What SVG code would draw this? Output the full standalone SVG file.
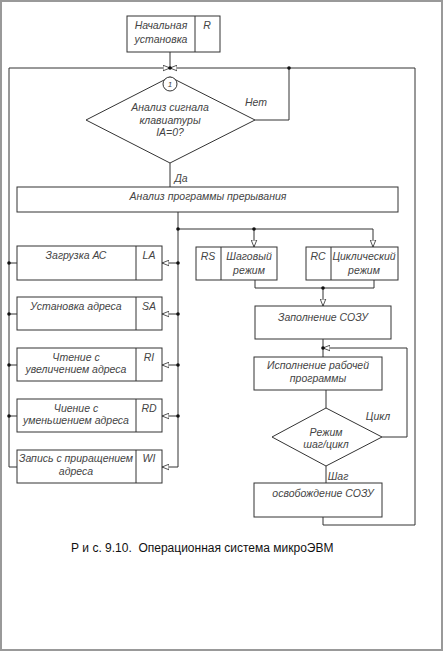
<svg xmlns="http://www.w3.org/2000/svg" width="444" height="652" viewBox="0 0 444 652">
<defs>
<style>
.frame{fill:none;stroke:#999;stroke-width:2}
.box{fill:#fff;stroke:#333;stroke-width:1}
.ln{fill:none;stroke:#333;stroke-width:1}
.t{font-family:"Liberation Sans",Arial,sans-serif;font-size:10.5px;font-style:italic;fill:#444;text-anchor:middle}
.cap{font-family:"Liberation Sans",Arial,sans-serif;font-size:12px;fill:#111;white-space:pre}
.dot{fill:#111}
</style>
<marker id="ah" viewBox="0 0 10 10" refX="10" refY="5" markerWidth="7" markerHeight="7" orient="auto" markerUnits="userSpaceOnUse">
<path d="M0,1 L10,5 L0,9 Z" fill="#fff" stroke="#333" stroke-width="1.2"/>
</marker>
</defs>
<rect class="frame" x="1" y="1" width="441" height="649"/>

<g id="connectors">
<path class="ln" d="M170,52 V68"/>
<path class="ln" d="M9,68 H170" marker-end="url(#ah)"/>
<path class="ln" d="M415,68 H170" marker-end="url(#ah)"/>
<path class="ln" d="M9,68 V467 H17"/>
<path class="ln" d="M255,120 H289 V68"/>
<path class="ln" d="M170,163 V187"/>
<path class="ln" d="M178,212 V467"/>
<path class="ln" d="M178,229 H373"/>
<path class="ln" d="M254,229 V247" marker-end="url(#ah)"/>
<path class="ln" d="M373,229 V247" marker-end="url(#ah)"/>
<path class="ln" d="M178,263 H162" marker-end="url(#ah)"/>
<path class="ln" d="M178,314 H162" marker-end="url(#ah)"/>
<path class="ln" d="M178,365 H162" marker-end="url(#ah)"/>
<path class="ln" d="M178,416 H162" marker-end="url(#ah)"/>
<path class="ln" d="M178,467 H162" marker-end="url(#ah)"/>
<path class="ln" d="M9,263 H17 M9,314 H17 M9,365 H17 M9,416 H17"/>
<path class="ln" d="M255,280 V288 H374 V280"/>
<path class="ln" d="M323,288 V306" marker-end="url(#ah)"/>
<path class="ln" d="M323,339 V357"/>
<path class="ln" d="M382,437 H407 V348 H323" marker-end="url(#ah)"/>
<path class="ln" d="M326,390 V408"/>
<path class="ln" d="M326,466 V483"/>
<path class="ln" d="M323,517 V525 H415 V68"/>
<circle class="dot" cx="170" cy="68" r="1.8"/>
<circle class="dot" cx="289" cy="68" r="1.8"/>
<circle class="dot" cx="178" cy="229" r="1.8"/>
<circle class="dot" cx="254" cy="229" r="1.8"/>
<circle class="dot" cx="178" cy="263" r="1.8"/>
<circle class="dot" cx="178" cy="314" r="1.8"/>
<circle class="dot" cx="178" cy="365" r="1.8"/>
<circle class="dot" cx="178" cy="416" r="1.8"/>
<circle class="dot" cx="9" cy="263" r="1.8"/>
<circle class="dot" cx="9" cy="314" r="1.8"/>
<circle class="dot" cx="9" cy="365" r="1.8"/>
<circle class="dot" cx="9" cy="416" r="1.8"/>
<circle class="dot" cx="323" cy="288" r="1.8"/>
<circle class="dot" cx="323" cy="348" r="1.8"/>
<text class="t" x="256" y="106">Нет</text>
<text class="t" x="181" y="182">Да</text>
<text class="t" x="378" y="420">Цикл</text>
<text class="t" x="338" y="480">Шаг</text>
</g>

<g id="n-start">
<rect class="box" x="127" y="16" width="93" height="36"/>
<path class="ln" d="M195,16 V52"/>
<text class="t" x="161" y="29">Начальная</text>
<text class="t" x="161" y="43">установка</text>
<text class="t" x="207" y="29">R</text>
</g>

<g id="n-decision1">
<polygon class="box" points="170,77 255,120 170,163 86,120"/>
<circle class="box" cx="170" cy="84" r="7"/>
<text class="t" x="170" y="87" style="font-size:8px">1</text>
<text class="t" x="170" y="111">Анализ сигнала</text>
<text class="t" x="170" y="124">клавиатуры</text>
<text class="t" x="170" y="136">IA=0?</text>
</g>

<g id="n-analysis">
<rect class="box" x="17" y="187" width="381" height="25"/>
<text class="t" x="208" y="200">Анализ программы прерывания</text>
</g>

<g id="n-la">
<rect class="box" x="17" y="246" width="145" height="34"/>
<path class="ln" d="M136,246 V280"/>
<text class="t" x="76" y="259">Загрузка АС</text>
<text class="t" x="149" y="259">LA</text>
</g>
<g id="n-sa">
<rect class="box" x="17" y="297" width="145" height="33"/>
<path class="ln" d="M136,297 V330"/>
<text class="t" x="76" y="310">Установка адреса</text>
<text class="t" x="149" y="310">SA</text>
</g>
<g id="n-ri">
<rect class="box" x="17" y="348" width="145" height="33"/>
<path class="ln" d="M136,348 V381"/>
<text class="t" x="76" y="361">Чтение с</text>
<text class="t" x="76" y="373">увеличением адреса</text>
<text class="t" x="149" y="361">RI</text>
</g>
<g id="n-rd">
<rect class="box" x="17" y="399" width="145" height="33"/>
<path class="ln" d="M136,399 V432"/>
<text class="t" x="76" y="412">Чиение с</text>
<text class="t" x="76" y="424">уменьшением адреса</text>
<text class="t" x="149" y="412">RD</text>
</g>
<g id="n-wi">
<rect class="box" x="17" y="450" width="145" height="33"/>
<path class="ln" d="M136,450 V483"/>
<text class="t" x="76" y="462">Запись с приращением</text>
<text class="t" x="76" y="475">адреса</text>
<text class="t" x="149" y="462">WI</text>
</g>

<g id="n-rs">
<rect class="box" x="196" y="247" width="81" height="33"/>
<path class="ln" d="M221,247 V280"/>
<text class="t" x="208" y="260">RS</text>
<text class="t" x="249" y="260">Шаговый</text>
<text class="t" x="249" y="274">режим</text>
</g>
<g id="n-rc">
<rect class="box" x="306" y="247" width="92" height="33"/>
<path class="ln" d="M331,247 V280"/>
<text class="t" x="318" y="260">RC</text>
<text class="t" x="364" y="260">Циклический</text>
<text class="t" x="364" y="274">режим</text>
</g>

<g id="n-fill">
<rect class="box" x="255" y="306" width="136" height="33"/>
<text class="t" x="323" y="321">Заполнение СОЗУ</text>
</g>
<g id="n-exec">
<rect class="box" x="254" y="357" width="128" height="33"/>
<text class="t" x="318" y="369">Исполнение рабочей</text>
<text class="t" x="318" y="382">программы</text>
</g>
<g id="n-decision2">
<polygon class="box" points="326,408 382,437 326,466 272,437"/>
<text class="t" x="326" y="436">Режим</text>
<text class="t" x="326" y="448">шаг/цикл</text>
</g>
<g id="n-free">
<rect class="box" x="254" y="483" width="128" height="34"/>
<text class="t" x="323" y="497">освобождение СОЗУ</text>
</g>

<text class="cap" x="71" y="552" xml:space="preserve">Р и с. 9.10.  Операционная система микроЭВМ</text>
</svg>
